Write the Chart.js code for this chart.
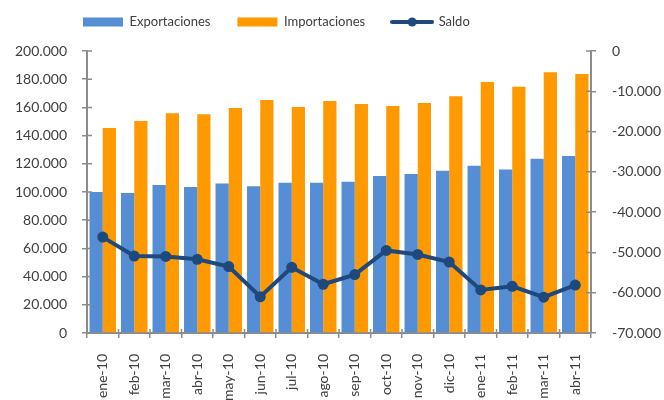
<!DOCTYPE html>
<html lang="es">
<head>
<meta charset="utf-8">
<title>Exportaciones, Importaciones y Saldo</title>
<script src="https://cdn.jsdelivr.net/npm/chart.js@4.4.1/dist/chart.umd.min.js"></script>
<style>
  html, body { margin: 0; padding: 0; background: #ffffff; }
  #wrap { width: 664px; height: 400px; }
</style>
</head>
<body>
<div id="wrap"><canvas id="chart" width="664" height="400"></canvas></div>
<script>
// --- DATOS ---
const meses = ['ene-10', 'feb-10', 'mar-10', 'abr-10', 'may-10', 'jun-10', 'jul-10', 'ago-10',
               'sep-10', 'oct-10', 'nov-10', 'dic-10', 'ene-11', 'feb-11', 'mar-11', 'abr-11'];
const exportaciones = [100000, 99300, 105000, 103500, 106000, 104000, 106600, 106600,
                       107200, 111300, 112700, 115100, 118700, 116000, 123600, 125500];
const importaciones = [145400, 150400, 155800, 155100, 159600, 165200, 160300, 164500,
                       162400, 161000, 163100, 167900, 178000, 174700, 184900, 183700];
const saldo = [-46200, -50900, -51000, -51700, -53500, -61000, -53700, -57900,
               -55500, -49500, -50500, -52400, -59300, -58400, -61100, -58100];

const ejeIzqTicks = [0, 200000, 20000];     // min, max, paso
const ejeDerTicks = [-70000, 0, 10000];

// colores
const azul = '#558ed5';
const naranja = '#ff9900';
const azulOscuro = '#1f497d';
const gris = '#8c8c8c';
const texto = '#404040';

// separador de miles con punto
function miles(v) {
    const s = String(Math.abs(v)).replace(/\B(?=(\d{3})+(?!\d))/g, '.');
    return (v < 0 ? '-' : '') + s;
}

// icono de leyenda para la linea: trazo con punto en el medio
function iconoLinea() {
    const c = document.createElement('canvas');
    c.width = 44; c.height = 12;
    const g = c.getContext('2d');
    g.strokeStyle = azulOscuro;
    g.lineWidth = 4;
    g.lineCap = 'round';
    g.beginPath(); g.moveTo(2, 6); g.lineTo(42, 6); g.stroke();
    g.fillStyle = azulOscuro;
    g.beginPath(); g.arc(22, 6, 4.5, 0, Math.PI * 2); g.fill();
    return c;
}

// marcas de eje que cruzan la linea (la parte interior; la exterior la pone Chart.js)
const marcasInteriores = {
    id: 'marcasInteriores',
    afterDraw(chart) {
        const ctx = chart.ctx;
        const { x, y, y2 } = chart.scales;
        ctx.save();
        ctx.strokeStyle = gris;
        ctx.lineWidth = 1.5;
        ctx.beginPath();
        y.ticks.forEach(t => {
            const py = y.getPixelForValue(t.value);
            ctx.moveTo(y.right, py); ctx.lineTo(y.right + 5, py);
        });
        y2.ticks.forEach(t => {
            const py = y2.getPixelForValue(t.value);
            ctx.moveTo(y2.left, py); ctx.lineTo(y2.left - 5, py);
        });
        const n = meses.length;
        for (let i = 0; i <= n; i++) {
            const px = x.left + i * (x.width / n);
            ctx.moveTo(px, x.top); ctx.lineTo(px, x.top - 4);
        }
        ctx.stroke();
        ctx.restore();
    }
};

// la leyenda de Excel queda arriba a la izquierda, mas alta que el hueco que deja
const moverLeyenda = {
    id: 'moverLeyenda',
    afterLayout(chart) {
        const l = chart.legend;
        l.left += 56; l.right += 56;
        l.top -= 12.5; l.bottom -= 12.5;
    }
};

Chart.defaults.font.family = 'Lato, "Liberation Sans", sans-serif';
Chart.defaults.font.size = 14;
Chart.defaults.color = texto;

const ctx = document.getElementById('chart').getContext('2d');
new Chart(ctx, {
    type: 'bar',
    data: {
        labels: meses,
        datasets: [
            { type: 'line', label: 'Saldo', data: saldo, yAxisID: 'y2', order: 0,
              borderColor: azulOscuro, backgroundColor: azulOscuro, borderWidth: 4,
              pointRadius: 5.5, pointHoverRadius: 5.5, pointBackgroundColor: azulOscuro,
              pointBorderWidth: 0, tension: 0 },
            { label: 'Exportaciones', data: exportaciones, yAxisID: 'y', order: 1,
              backgroundColor: azul, categoryPercentage: 0.84, barPercentage: 1.0 },
            { label: 'Importaciones', data: importaciones, yAxisID: 'y', order: 1,
              backgroundColor: naranja, categoryPercentage: 0.84, barPercentage: 1.0 }
        ]
    },
    options: {
        responsive: false,
        animation: false,
        layout: { padding: { left: 0, right: 0, top: 1, bottom: 0 } },
        plugins: {
            tooltip: { enabled: false },
            legend: {
                position: 'top',
                align: 'start',
                labels: {
                    padding: 27,
                    usePointStyle: true,
                    pointStyleWidth: 40,
                    boxHeight: 9,
                    color: texto,
                    font: { size: 13 },
                    generateLabels(chart) {
                        // orden de la leyenda: barras primero, luego la linea
                        const orden = [1, 2, 0];
                        return orden.map(i => {
                            const ds = chart.data.datasets[i];
                            return {
                                text: ds.label,
                                datasetIndex: i,
                                fillStyle: ds.backgroundColor,
                                strokeStyle: ds.backgroundColor,
                                lineWidth: 0,
                                fontColor: texto,
                                pointStyle: ds.type === 'line' ? iconoLinea() : 'rect',
                                hidden: false
                            };
                        });
                    }
                }
            }
        },
        scales: {
            x: {
                grid: { drawOnChartArea: false, offset: true, color: gris, lineWidth: 1.5, tickLength: 5 },
                border: { color: gris, width: 2 },
                ticks: { minRotation: 90, maxRotation: 90, padding: 16, autoSkip: false },
                afterFit(scale) { scale.height = 67; }
            },
            y: {
                position: 'left',
                min: ejeIzqTicks[0], max: ejeIzqTicks[1],
                grid: { drawOnChartArea: false, color: gris, lineWidth: 1.5, tickLength: 5 },
                border: { color: gris, width: 2 },
                ticks: { stepSize: ejeIzqTicks[2], padding: 15, callback: v => miles(v) },
                afterFit(scale) { scale.width = 87; }
            },
            y2: {
                position: 'right',
                min: ejeDerTicks[0], max: ejeDerTicks[1],
                grid: { drawOnChartArea: false, color: gris, lineWidth: 1.5, tickLength: 5 },
                border: { color: gris, width: 2 },
                ticks: { stepSize: ejeDerTicks[2], padding: 16, callback: v => miles(v) },
                afterFit(scale) { scale.width = 73; }
            }
        }
    },
    plugins: [marcasInteriores, moverLeyenda]
});
</script>
</body>
</html>
